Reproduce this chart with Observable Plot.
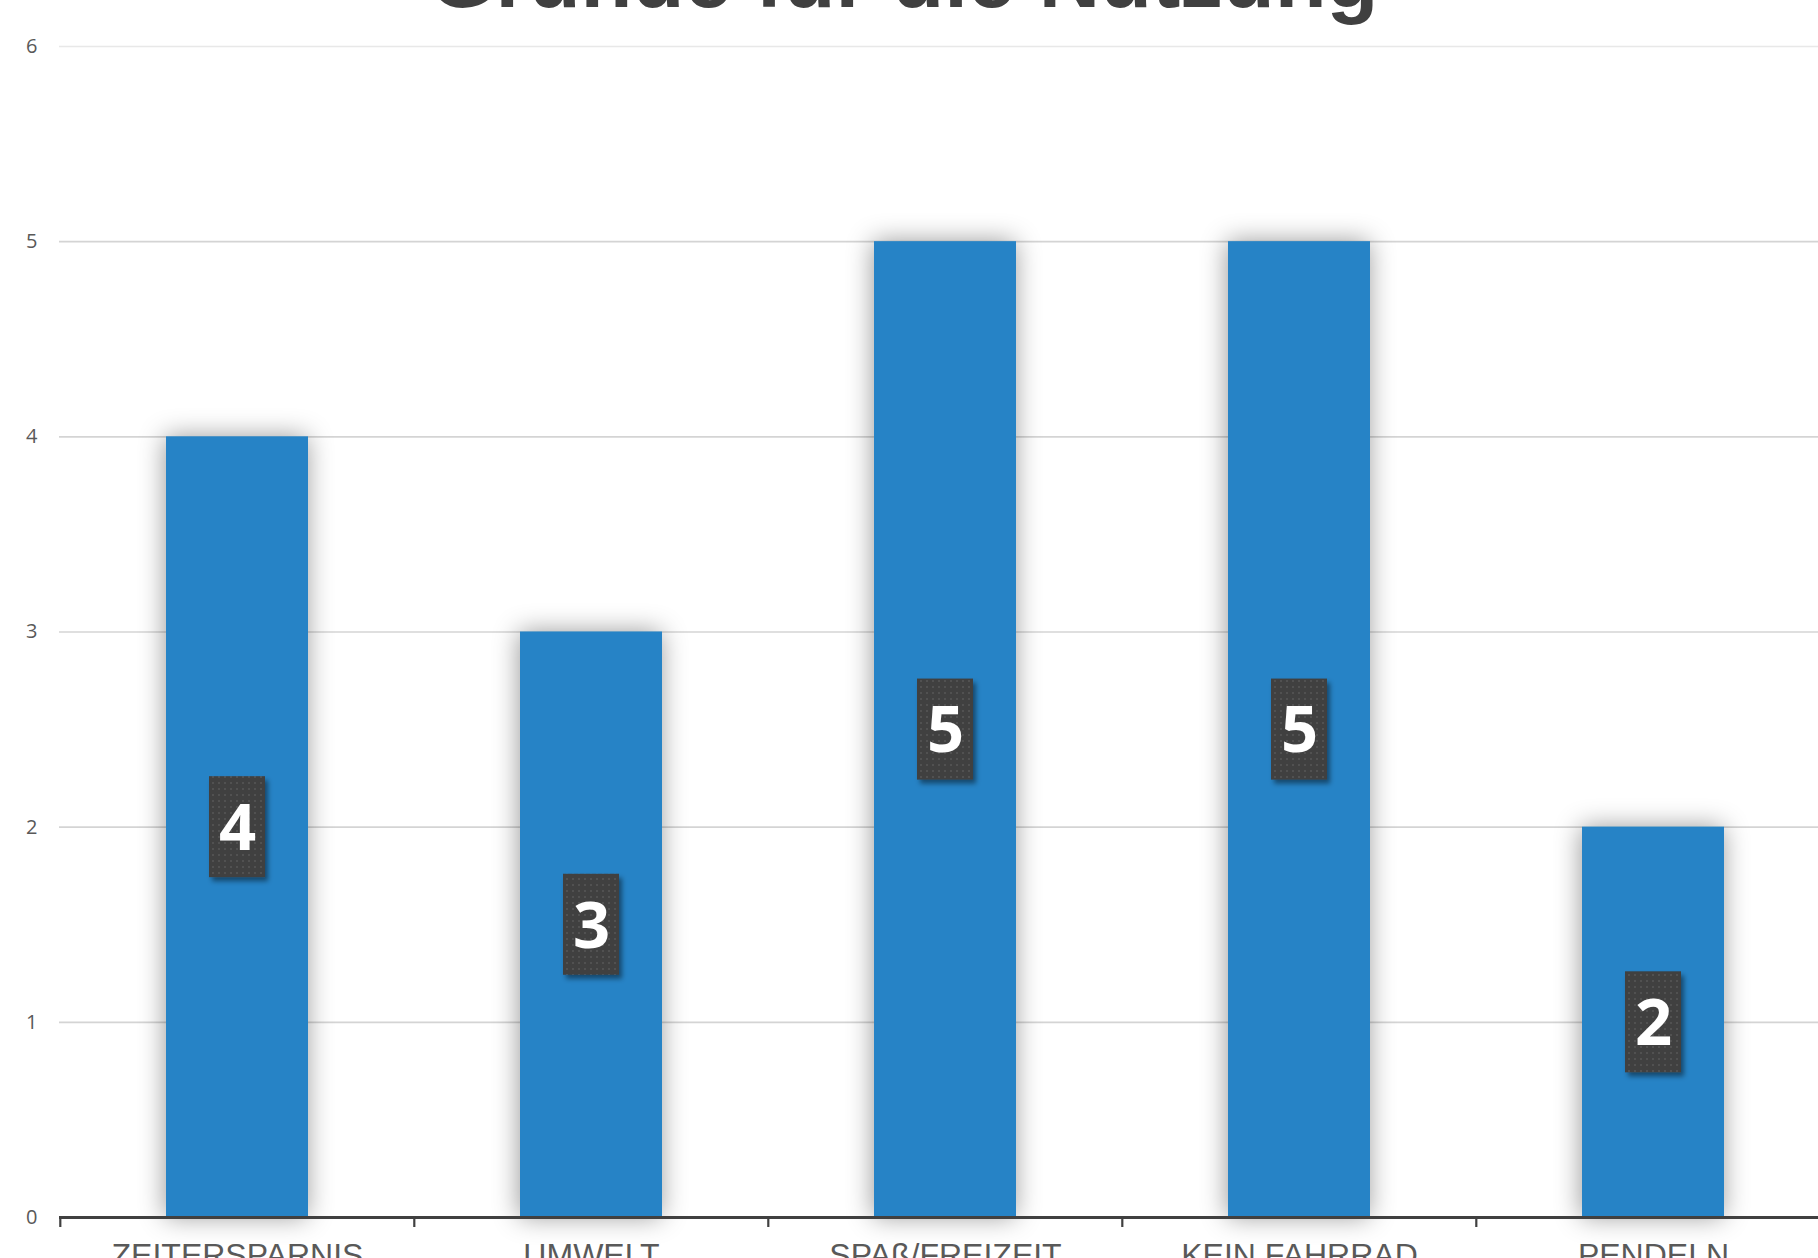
<!DOCTYPE html>
<html>
<head>
<meta charset="utf-8">
<script src="https://cdn.jsdelivr.net/npm/d3@7"></script>
<script src="https://cdn.jsdelivr.net/npm/@observablehq/plot@0.6"></script>
<style>
  html, body { margin: 0; padding: 0; overflow: hidden; background: #fff; width: 1818px; height: 1258px; }
  #wrap { position: relative; width: 1818px; height: 1258px; overflow: hidden; }
  #title { position: absolute; top: -65px; left: 0; width: 1808px; text-align: center;
           font-family: "Liberation Sans", Arial, sans-serif; font-weight: bold; font-size: 85px;
           line-height: 1; color: #404040; white-space: nowrap; z-index: 2; }
  #chart { position: absolute; top: 0; left: 0; width: 1840px; }
  #chart svg { max-width: none !important; }
</style>
</head>
<body>
<div id="wrap">
  <div id="chart"></div>
  <div id="title">Gründe für die Nutzung</div>
</div>
<script>
const categories = ["ZEITERSPARNIS", "UMWELT", "SPAß/FREIZEIT", "KEIN FAHRRAD", "PENDELN"];
const values = [4, 3, 5, 5, 2];
const yTicks = [0, 1, 2, 3, 4, 5, 6];

const data = categories.map((c, i) => ({category: c, value: values[i]}));

const W = 1840, H = 1290;
const ml = 59, mr = 9, mt = 46, mb = 73;
const step = (W - ml - mr) / categories.length;

const chart = Plot.plot({
  width: W,
  height: H,
  marginLeft: ml,
  marginRight: mr,
  marginTop: mt,
  marginBottom: mb,
  style: {background: "#fff", fontFamily: "'Open Sans', sans-serif", overflow: "visible", maxWidth: "none"},
  x: {domain: categories, paddingInner: 0.6, paddingOuter: 0.3, label: null},
  y: {domain: [0, 6], label: null},
  marks: [
    Plot.ruleY(yTicks.filter(d => d > 0), {y: d => d, stroke: d => d === 6 ? "#e8e8e8" : "#d4d4d4", strokeWidth: 1.6}),
    Plot.barY(data, {x: "category", y: "value", fill: "#2683c6"}),
    Plot.ruleY([0], {stroke: "#404040", strokeWidth: 3}),
    Plot.axisY({ticks: yTicks, tickFormat: d => String(d), tickSize: 0, tickPadding: 22, fontSize: 20, fill: "#595959", label: null}),
    Plot.axisX({tickSize: 10, tickFormat: () => "", dx: -step / 2, stroke: "#404040", strokeWidth: 2.2, label: null}),
    Plot.axisX({tickSize: 0, tickPadding: 26, fontSize: 32, fill: "#595959",
                fontFamily: "'Liberation Sans', Arial, sans-serif", label: null}),
    Plot.barY(data, {x: "category", y1: d => d.value / 2, y2: d => d.value / 2,
                     insetLeft: 43, insetRight: 43, insetTop: -50.5, insetBottom: -50.5, fill: "url(#dots)"}),
    Plot.text(data, {x: "category", y: d => d.value / 2, text: d => String(d.value), fill: "#fff",
                     fontSize: 65, fontWeight: 700, fontFamily: "'Open Sans', sans-serif", dy: 2})
  ]
});

document.getElementById("chart").appendChild(chart);

const svg = d3.select(chart);
const defs = svg.insert("defs", ":first-child");
const pat = defs.append("pattern").attr("id", "dots").attr("patternUnits", "userSpaceOnUse")
  .attr("width", 6).attr("height", 6);
pat.append("rect").attr("width", 6).attr("height", 6).attr("fill", "#3f3f3f");
pat.append("circle").attr("cx", 3).attr("cy", 3).attr("r", 1).attr("fill", "#575757");

const f1 = defs.append("filter").attr("id", "barShadow").attr("x", "-50%").attr("y", "-20%").attr("width", "200%").attr("height", "140%");
f1.append("feDropShadow").attr("dx", -1).attr("dy", 0).attr("stdDeviation", 13)
  .attr("flood-color", "#000").attr("flood-opacity", 0.4);
const f2 = defs.append("filter").attr("id", "boxShadow").attr("x", "-50%").attr("y", "-50%").attr("width", "200%").attr("height", "200%");
f2.append("feDropShadow").attr("dx", 3).attr("dy", 4).attr("stdDeviation", 2.5)
  .attr("flood-color", "#000").attr("flood-opacity", 0.45);

const bars = svg.selectAll('g[aria-label="bar"]');
bars.filter((d, i) => i === 0).selectAll("rect").attr("filter", "url(#barShadow)");
bars.filter((d, i) => i === 1).selectAll("rect").attr("filter", "url(#boxShadow)");
</script>
</body>
</html>
